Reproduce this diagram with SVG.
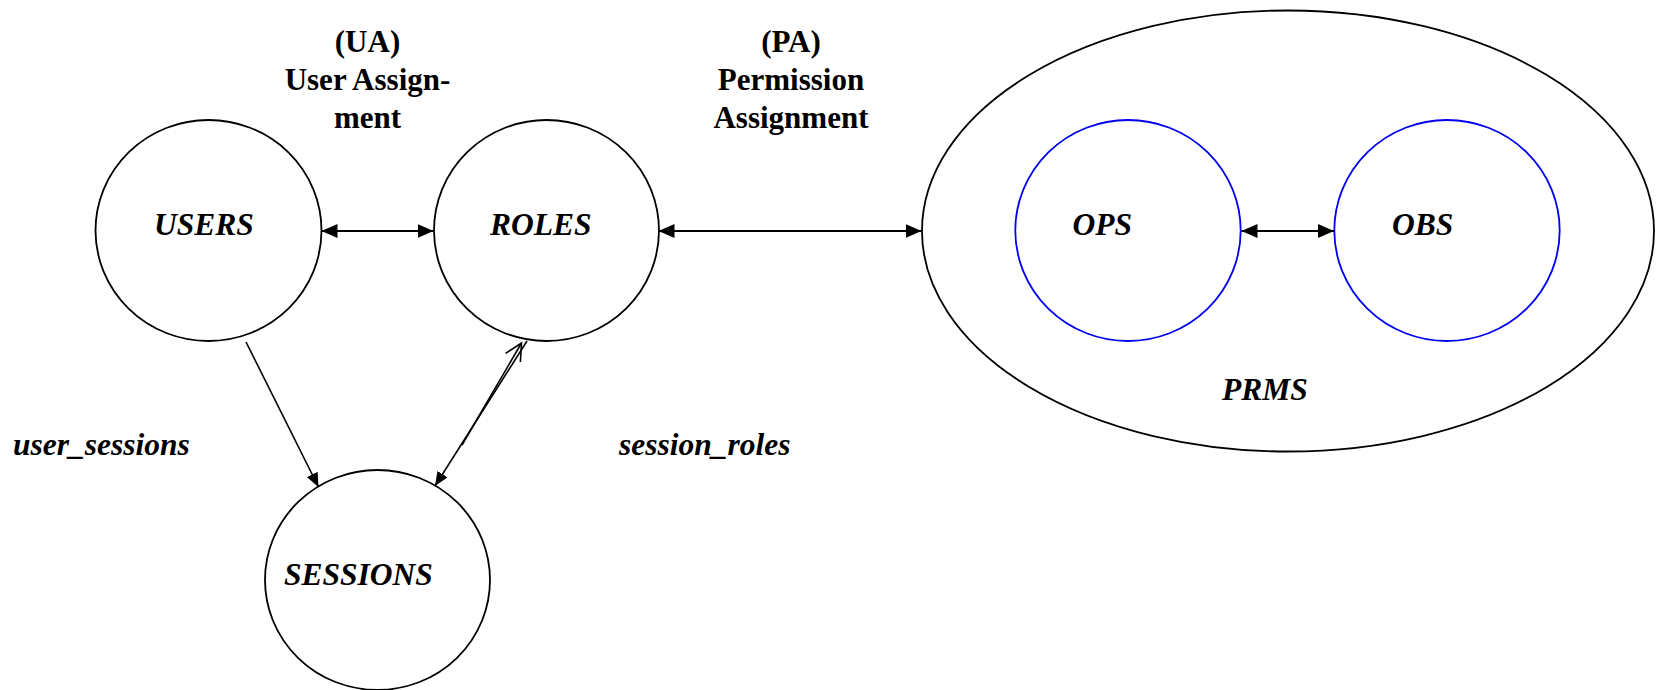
<svg xmlns="http://www.w3.org/2000/svg" width="1660" height="690" viewBox="0 0 1660 690">
  <style>
    .node { fill: #ffffff; stroke: #000000; stroke-width: 1.8; }
    .inner { fill: #ffffff; stroke: #0000ee; stroke-width: 1.8; }
    .lbl { font-family: "Liberation Serif", "Times New Roman", serif; font-size: 31.5px; font-weight: bold; font-style: italic; fill: #000000; }
    .head { font-family: "Liberation Serif", "Times New Roman", serif; font-size: 31px; font-weight: bold; fill: #000000; text-anchor: middle; }
    .edge { fill: none; stroke: #000000; stroke-width: 2; }
    .thin { fill: none; stroke: #000000; stroke-width: 1.6; }
  </style>
  <defs>
    <marker id="tri" viewBox="0 0 16 14" refX="16" refY="7" markerWidth="16" markerHeight="14" markerUnits="userSpaceOnUse" orient="auto-start-reverse">
      <path d="M0,0 L16,7 L0,14 Z" fill="#000000"/>
    </marker>
    <marker id="triSmall" viewBox="0 0 14 12" refX="14" refY="6" markerWidth="14" markerHeight="12" markerUnits="userSpaceOnUse" orient="auto">
      <path d="M0,0 L14,6 L0,12 Z" fill="#000000"/>
    </marker>
    <marker id="open" viewBox="-20 -10 22 20" refX="0" refY="0" markerWidth="22" markerHeight="20" markerUnits="userSpaceOnUse" orient="auto">
      <path d="M-17,-8.6 L0,0 L-17,8.6" fill="none" stroke="#000000" stroke-width="1.6"/>
    </marker>
  </defs>

  <rect width="1660" height="690" fill="#ffffff"/>

  <!-- assignment headings -->
  <g id="ua-label">
    <text class="head" x="367.5" y="52">(UA)</text>
    <text class="head" x="367.5" y="90">User Assign-</text>
    <text class="head" x="367.5" y="128">ment</text>
  </g>
  <g id="pa-label">
    <text class="head" x="791" y="52">(PA)</text>
    <text class="head" x="791" y="90">Permission</text>
    <text class="head" x="791" y="128">Assignment</text>
  </g>

  <!-- permission set with its two inner sets -->
  <g id="prms">
    <ellipse class="node" cx="1288" cy="231" rx="366" ry="220.5"/>
    <text class="lbl" x="1222" y="400">PRMS</text>
  </g>
  <g id="ops">
    <ellipse class="inner" cx="1128" cy="230.5" rx="112.7" ry="110.5"/>
    <text class="lbl" x="1072.5" y="235">OPS</text>
  </g>
  <g id="obs">
    <ellipse class="inner" cx="1447" cy="230.5" rx="112.7" ry="110.5"/>
    <text class="lbl" x="1392" y="235">OBS</text>
  </g>

  <g id="users">
    <ellipse class="node" cx="208.5" cy="230.5" rx="113" ry="110.5"/>
    <text class="lbl" x="154" y="235">USERS</text>
  </g>
  <g id="roles">
    <ellipse class="node" cx="546.5" cy="230.5" rx="112.5" ry="110.5"/>
    <text class="lbl" x="490" y="235">ROLES</text>
  </g>
  <g id="sessions">
    <ellipse class="node" cx="377.5" cy="580" rx="112.5" ry="110"/>
    <text class="lbl" x="284" y="585">SESSIONS</text>
  </g>

  <!-- relation names -->
  <g id="relation-labels">
    <text class="lbl" x="13" y="455">user_sessions</text>
    <text class="lbl" x="619" y="455">session_roles</text>
  </g>

  <g id="connectors">
    <path class="edge" d="M321.5,231 L433.5,231" marker-start="url(#tri)" marker-end="url(#tri)"/>
    <path class="edge" d="M658.5,231 L921.5,231" marker-start="url(#tri)" marker-end="url(#tri)"/>
    <path class="edge" d="M1241.5,231 L1334,231" marker-start="url(#tri)" marker-end="url(#tri)"/>
    <path class="thin" d="M246,342 L318.5,487" marker-end="url(#triSmall)"/>
    <path class="thin" d="M527,341 L435,486" marker-end="url(#triSmall)"/>
    <path class="thin" d="M462,445 L521.5,343" marker-end="url(#open)"/>
  </g>
</svg>
